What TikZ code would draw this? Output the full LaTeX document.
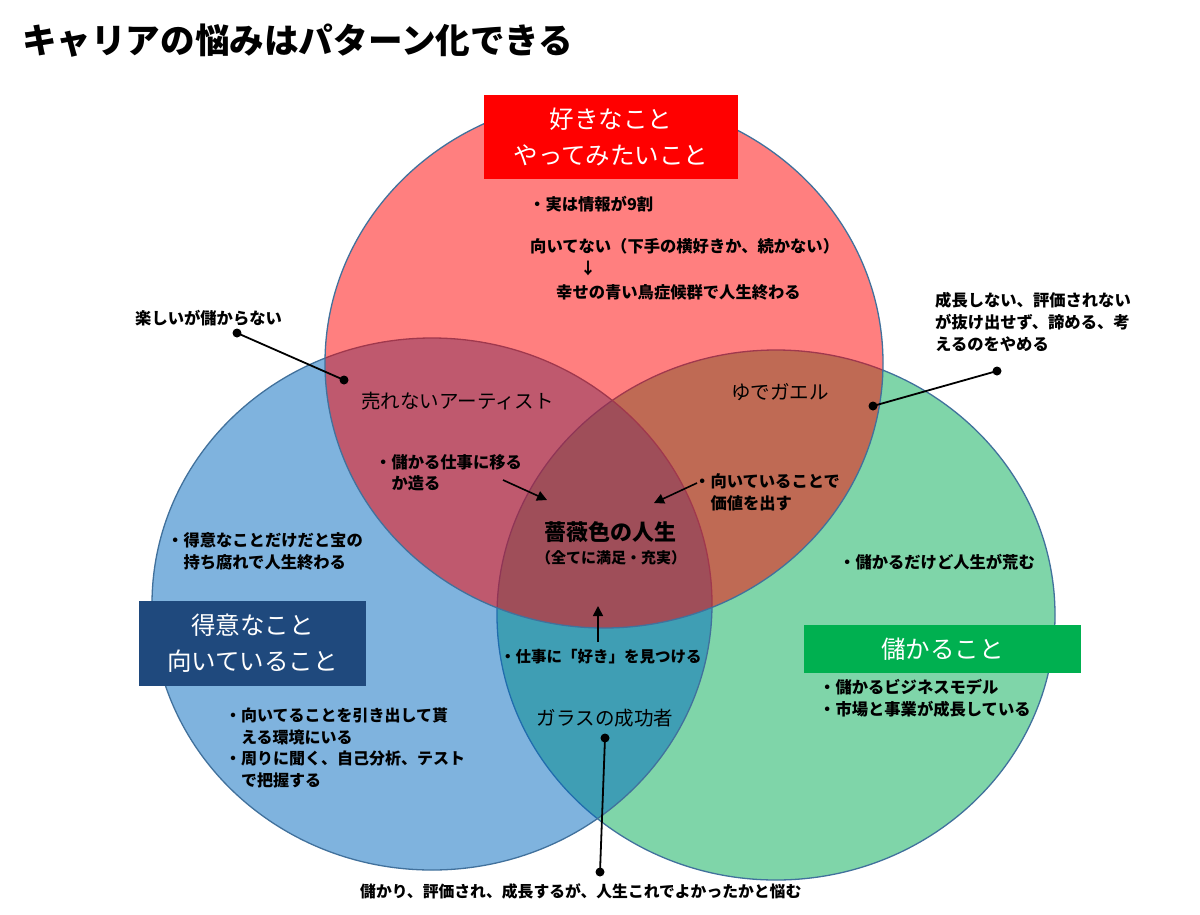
\documentclass[tikz,border=0pt]{standalone}
\usepackage{fontspec}
\setmainfont{Noto Sans CJK JP}
\usetikzlibrary{arrows.meta}
\definecolor{outl}{HTML}{41719C}
\definecolor{cred}{HTML}{FF0000}
\definecolor{cblue}{HTML}{0069BF}
\definecolor{cgreen}{HTML}{00AD55}
\definecolor{boxblue}{HTML}{1F497D}
\definecolor{boxgreen}{HTML}{00B050}
\newcommand\hpad{\hspace*{1em}}
\begin{document}
\begin{tikzpicture}[x=1pt,y=-1pt,
  venn/.style={draw=outl, line width=1.3pt, fill opacity=0.5},
  bt/.style={font=\fontsize{16.3}{22}\selectfont\bfseries, inner sep=0pt, anchor=west, align=left},
  lab/.style={font=\fontsize{19.5}{24}\selectfont, inner sep=0pt},
  titlebox/.style={inner sep=0pt, text=white, font=\fontsize{24.5}{36}\selectfont, align=center},
  dot/.style={circle, fill=black, inner sep=0pt, minimum size=9pt},
  conn/.style={line width=1.8pt},
  arr/.style={line width=1.6pt, -{Triangle[length=10pt,width=10pt]}}
]
\useasboundingbox (0,0) rectangle (1200,914);
\fill[white] (0,0) rectangle (1200,914);

% title
\node[anchor=west, inner sep=0pt, font=\fontsize{34.6}{40}\selectfont\bfseries] (title) at (22,41) {キャリアの悩みはパターン化できる};

% venn ellipses
\path[venn, fill=cgreen] (776,615) ellipse [x radius=279pt, y radius=265pt];
\path[venn, fill=cblue] (432,604) ellipse [x radius=280pt, y radius=266pt];
\path[venn, fill=cred] (604,363) ellipse [x radius=279pt, y radius=265pt];

% category boxes
\node[titlebox, fill=cred, minimum width=254pt, minimum height=84pt] (rbox) at (611,137) {好きなこと\\やってみたいこと};
\node[titlebox, fill=boxblue, minimum width=227pt, minimum height=85pt] (bbox) at (252.5,643.5) {得意なこと\\向いていること};
\node[titlebox, fill=boxgreen, minimum width=277pt, minimum height=48pt] (gbox) at (942.5,649) {儲かること};

% red circle texts
\node[bt] (t1) at (529,204) {・実は情報が9割};
\node[bt] (t2) at (530,246) {向いてない（下手の横好きか、続かない）};
\node[inner sep=0pt, font=\fontsize{16}{20}\selectfont\bfseries] (t2a) at (588,268) {↓};
\node[bt] (t3) at (556,292) {幸せの青い鳥症候群で人生終わる};

% outside left
\node[bt] (t4) at (135,318) {楽しいが儲からない};
% region labels
\node[lab, anchor=west] (artist) at (361,401) {売れないアーティスト};
\node[lab, anchor=west] (frog) at (731,392) {ゆでガエル};
\node[lab] (glass) at (605,718) {ガラスの成功者};

% outside right
\node[bt] (t5) at (935,322) {成長しない、評価されない\\が抜け出せず、諦める、考\\えるのをやめる};

% overlap texts
\node[bt, font=\fontsize{16.3}{21}\selectfont\bfseries] (t6) at (375,472.5) {・儲かる仕事に移る\\\hpad か造る};
\node[bt] (t7) at (694,492.5) {・向いていることで\\\hpad 価値を出す};

% center
\node[inner sep=0pt, font=\fontsize{22}{26}\selectfont\bfseries] (rose) at (610,532) {薔薇色の人生};
\node[inner sep=0pt, font=\fontsize{15}{20}\selectfont\bfseries] (rose2) at (611,558) {（全てに満足・充実）};

% blue circle texts
\node[bt] (t8) at (167,551) {・得意なことだけだと宝の\\\hpad 持ち腐れで人生終わる};
\node[bt, font=\fontsize{16}{21.5}\selectfont\bfseries] (t9) at (225,748) {・向いてることを引き出して貰\\\hpad える環境にいる\\・周りに聞く、自己分析、テスト\\\hpad で把握する};

% green circle texts
\node[bt] (t10) at (839,562) {・儲かるだけど人生が荒む};
\node[bt] (t11) at (819,698) {・儲かるビジネスモデル\\・市場と事業が成長している};

% blue-green lens
\node[bt, font=\fontsize{15.5}{20}\selectfont\bfseries] (t12) at (500,657) {・仕事に「好き」を見つける};

% bottom
\node[bt, font=\fontsize{15.8}{20}\selectfont\bfseries] (t13) at (360,891) {儲かり、評価され、成長するが、人生これでよかったかと悩む};

% arrows
\coordinate (a1s) at (503,480);
\coordinate (a1e) at (547,500);
\coordinate (a2s) at (697,483);
\coordinate (a2e) at (654,503);
\coordinate (a3s) at (598,642);
\coordinate (a3e) at (598,606);
\draw[arr] (a1s) -- (a1e);
\draw[arr] (a2s) -- (a2e);
\draw[arr] (a3s) -- (a3e);

% callout connectors
\node[dot] (d1a) at (237,333) {};
\node[dot] (d1b) at (344,380) {};
\node[dot] (d2a) at (997,371) {};
\node[dot] (d2b) at (873,406) {};
\node[dot] (d3a) at (605,738) {};
\node[dot] (d3b) at (600,872) {};
\draw[conn] (d1a.center) -- (d1b.center);
\draw[conn] (d2a.center) -- (d2b.center);
\draw[conn] (d3a.center) -- (d3b.center);
\end{tikzpicture}
\end{document}
